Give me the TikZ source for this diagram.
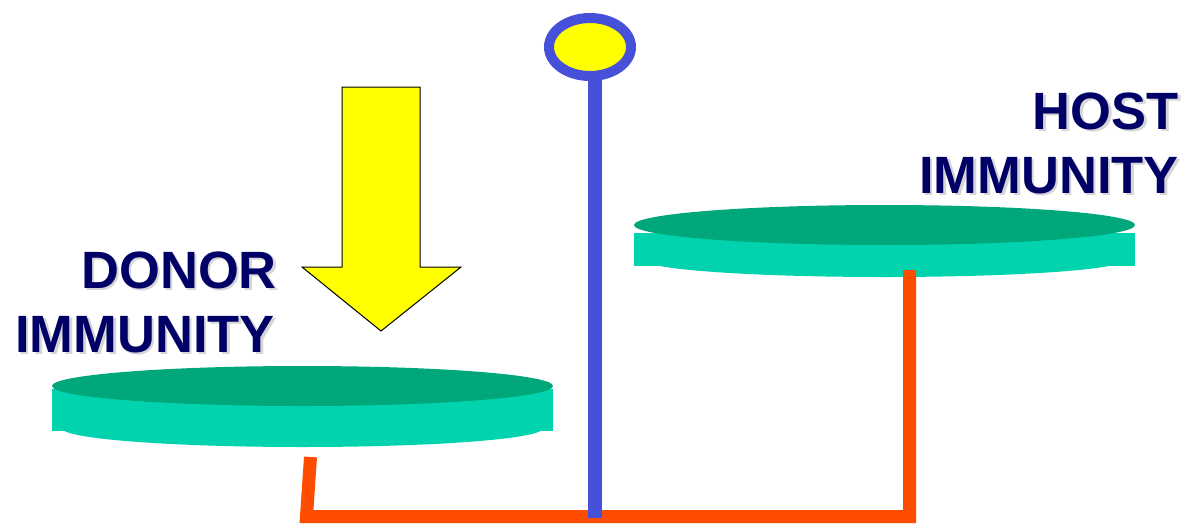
\documentclass[tikz,border=0pt]{standalone}
\usepackage{fontspec}
\setmainfont{Liberation Sans}
\usetikzlibrary{shapes.geometric}
\definecolor{pantop}{HTML}{00A77A}
\definecolor{panside}{HTML}{00D3AE}
\definecolor{leverred}{HTML}{FF4D00}
\definecolor{stemblue}{HTML}{4650D8}
\definecolor{navy}{HTML}{000066}
\definecolor{arrowyellow}{HTML}{FFFF00}
\begin{document}
\begin{tikzpicture}[x=1pt,y=-1pt,
  lbl/.style={inner sep=0pt, text=navy, font=\fontsize{52.5}{60}\selectfont\bfseries},
  lblshadow/.style={inner sep=0pt, text=black!16, font=\fontsize{52.5}{60}\selectfont\bfseries},
  lever/.style={draw=leverred, line width=13pt, line join=miter, line cap=butt},
  stem/.style={draw=stemblue, line width=14pt, line cap=butt},
  bigarrow/.style={fill=arrowyellow, draw=black, line width=1pt, line join=miter}]
\useasboundingbox (0,0) rectangle (1184,523);
% left pan
\fill[panside] (52,389) rectangle (553,431);
\fill[panside] (302.5,428.5) ellipse [x radius=240pt, y radius=18.5pt];
\fill[pantop] (302.5,386) ellipse [x radius=250.5pt, y radius=20pt];
% right pan
\fill[panside] (634,233) rectangle (1135,266);
\fill[panside] (884.5,260) ellipse [x radius=240pt, y radius=17pt];
\fill[pantop] (884.5,225) ellipse [x radius=250.5pt, y radius=20pt];
% lever
\coordinate (lhang) at (310.5,457);
\coordinate (lcorner) at (306.5,516.5);
\coordinate (rcorner) at (909.5,516.5);
\coordinate (rhang) at (909.5,270);
\draw[lever] (lhang) -- (lcorner) -- (rcorner) -- (rhang);
% stem and pivot knob
\node[draw=stemblue, line width=10pt, fill=arrowyellow, ellipse, minimum width=82pt, minimum height=58pt, inner sep=0pt] (knob) at (590,47) {};
\coordinate (stembottom) at (594.5,518);
\draw[stem] (594.5,76) -- (stembottom);
% yellow arrow
\draw[bigarrow] (342,87) -- (420,87) -- (420,267) -- (461,267) -- (381,331) -- (302,267) -- (342,267) -- cycle;
% label shadows
\node[lblshadow, anchor=base east] (donor1s) at (279.5,290.5) {DONOR};
\node[lblshadow, anchor=base east] (donor2s) at (277.5,354.5) {IMMUNITY};
\node[lblshadow, anchor=base east] (host1s) at (1181.5,131.5) {HOST};
\node[lblshadow, anchor=base east] (host2s) at (1181.5,195.5) {IMMUNITY};
% labels
\node[lbl, anchor=base east] (donor1) at (277,288) {DONOR};
\node[lbl, anchor=base east] (donor2) at (275,352) {IMMUNITY};
\node[lbl, anchor=base east] (host1) at (1179,129) {HOST};
\node[lbl, anchor=base east] (host2) at (1179,193) {IMMUNITY};
\end{tikzpicture}
\end{document}
